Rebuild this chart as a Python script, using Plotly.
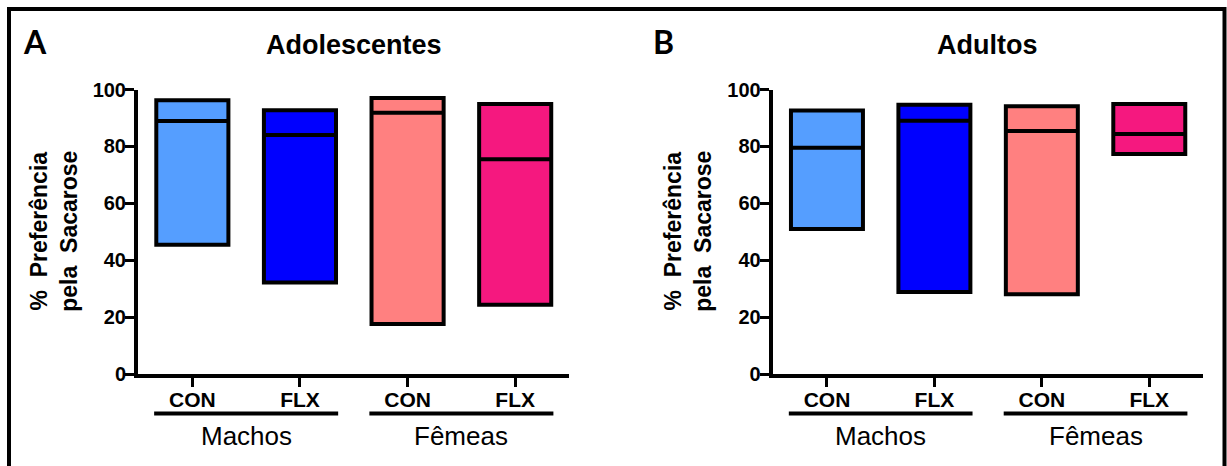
import plotly.graph_objects as go

# ---------------- data ----------------
categories = ["CON", "FLX", "CON", "FLX"]
groups = ["Machos", "Fêmeas"]
colors = ["#559EFF", "#0000FF", "#FF8080", "#F5187F"]

adol_min = [45.4, 32.2, 17.6, 24.3]
adol_median = [88.9, 84.0, 91.8, 75.5]
adol_max = [96.2, 92.7, 97.0, 94.9]

adult_min = [51.0, 28.8, 28.0, 77.3]
adult_median = [79.5, 89.0, 85.4, 84.4]
adult_max = [92.6, 94.6, 94.1, 94.9]

panel_titles = ["Adolescentes", "Adultos"]
panel_letters = ["A", "B"]
y_title = "%  Preferência<br>pela  Sacarose"
y_ticks = [0, 20, 40, 60, 80, 100]

# ---------------- layout helpers ----------------
W, H = 1227, 466
FONT = "Liberation Sans, Arial, sans-serif"


def px(x):
    return x / W


def py(y):
    return 1 - y / H


BOX_W = 0.67
positions = list(range(len(categories)))

fig = go.Figure()

panels = [
    dict(mins=adol_min, meds=adol_median, maxs=adol_max, xa="x", ya="y"),
    dict(mins=adult_min, meds=adult_median, maxs=adult_max, xa="x2", ya="y2"),
]

for p in panels:
    for i, pos in enumerate(positions):
        fig.add_trace(go.Box(
            x=[pos], q1=[p["mins"][i]], median=[p["meds"][i]], q3=[p["maxs"][i]],
            lowerfence=[p["mins"][i]], upperfence=[p["maxs"][i]],
            width=BOX_W, whiskerwidth=0,
            fillcolor=colors[i], line=dict(color="black", width=4),
            xaxis=p["xa"], yaxis=p["ya"], showlegend=False, hoverinfo="skip",
        ))

y_dom = [py(374), py(89.5)]
x_doms = [[px(138), px(569)], [px(772.7), px(1203)]]

axis_common = dict(
    showline=True, linecolor="black", linewidth=4,
    ticks="outside", ticklen=9, tickwidth=3, tickcolor="black",
    showgrid=False, zeroline=False, automargin=False,
)

for k in range(2):
    sx = "" if k == 0 else "2"
    fig.layout["xaxis" + sx] = dict(
        axis_common, domain=x_doms[k], range=[-0.505, 3.5], anchor="y" + sx,
        tickvals=positions, ticktext=["<b>%s</b>" % c for c in categories],
        tickfont=dict(family=FONT, size=21, color="black"),
        ticklabelstandoff=-5,
    )
    fig.layout["yaxis" + sx] = dict(
        axis_common, domain=y_dom, range=[0, 100], anchor="x" + sx,
        tickvals=y_ticks, ticktext=["<b>%d</b>" % t for t in y_ticks],
        tickfont=dict(family=FONT, size=20, color="black"),
        ticklabelstandoff=-5,
    )

annotations = []
shapes = []
y_title_x = [54, 688]
letter_x = [34.5, 663]
for k in range(2):
    sx = "" if k == 0 else "2"
    xc = (x_doms[k][0] + x_doms[k][1]) / 2
    annotations.append(dict(
        text="<b>%s</b>" % panel_titles[k], x=xc, y=py(45), xref="paper", yref="paper",
        xanchor="center", yanchor="middle", showarrow=False,
        font=dict(family=FONT, size=27, color="black")))
    annotations.append(dict(
        text="<b>%s</b>" % panel_letters[k], x=px(letter_x[k]), y=py(41), xref="paper", yref="paper",
        xanchor="center", yanchor="middle", showarrow=False,
        font=dict(family="Lato, " + FONT, size=32, color="black")))
    annotations.append(dict(
        text="<b>%s</b>" % y_title, x=px(y_title_x[k]), y=(y_dom[0] + y_dom[1]) / 2,
        xref="paper", yref="paper", xanchor="center", yanchor="middle",
        textangle=-90, showarrow=False,
        font=dict(family=FONT, size=23, color="black")))
    for g, gname in enumerate(groups):
        gpos = positions[2 * g:2 * g + 2]
        annotations.append(dict(
            text=gname, x=sum(gpos) / len(gpos), y=py(436), xref="x" + sx, yref="paper",
            xanchor="center", yanchor="middle", showarrow=False,
            font=dict(family=FONT, size=26, color="black")))
        shapes.append(dict(
            type="line", xref="x" + sx, yref="paper",
            x0=gpos[0] - BOX_W / 2 - 0.02, x1=gpos[-1] + BOX_W / 2 + 0.02,
            y0=py(413.5), y1=py(413.5), line=dict(color="black", width=4)))

# outer frame (open at the bottom, cropped)
shapes.append(dict(type="path", xref="paper", yref="paper",
                   path="M %f %f L %f %f L %f %f L %f %f" % (
                       px(9), -0.1, px(9), py(9), px(1224.5), py(9), px(1224.5), -0.1),
                   line=dict(color="black", width=4)))

fig.update_layout(
    width=W, height=H,
    margin=dict(l=0, r=0, t=0, b=0, pad=0, autoexpand=False),
    paper_bgcolor="white", plot_bgcolor="white",
    boxmode="overlay", showlegend=False,
    annotations=annotations, shapes=shapes,
    font=dict(family=FONT, color="black"),
)

fig.write_html("out.html")
